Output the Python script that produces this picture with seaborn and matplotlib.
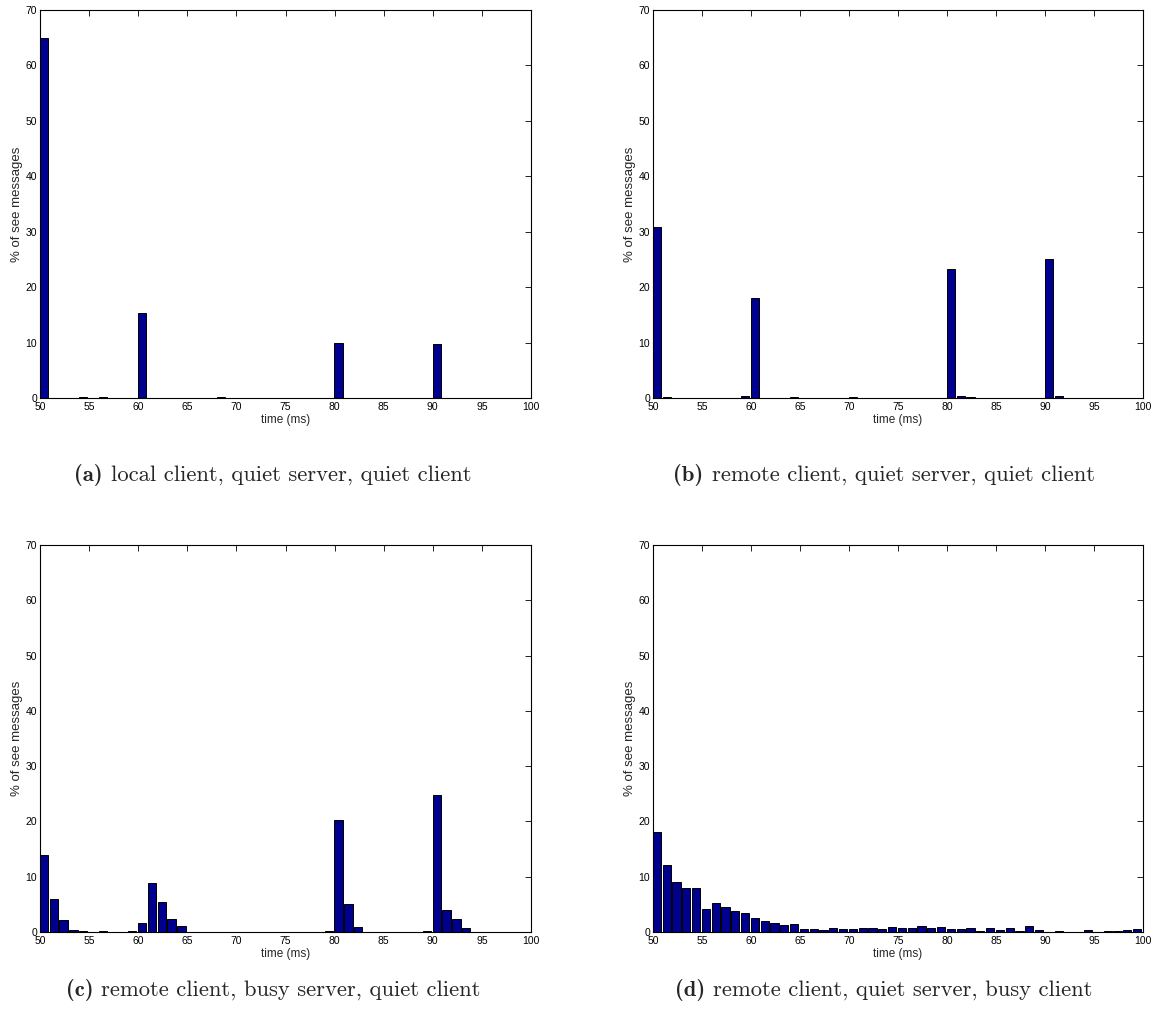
import numpy as np
import matplotlib
matplotlib.use("Agg")
import matplotlib.pyplot as plt
import seaborn as sns

# histogram bins (ms), one bar per 1 ms bin from 50 to 99
time_bins = list(range(50, 100))

# % of see messages per bin
local_quiet = [65.0, 0, 0, 0, 0.2, 0, 0.2, 0, 0, 0,
               15.3, 0, 0, 0, 0, 0, 0, 0, 0.15, 0,
               0, 0, 0, 0, 0, 0, 0, 0, 0, 0,
               9.9, 0, 0, 0, 0, 0, 0, 0, 0, 0,
               9.7, 0, 0, 0, 0, 0, 0, 0, 0, 0]
remote_quiet = [30.8, 0.2, 0.05, 0.05, 0.05, 0.05, 0.05, 0.05, 0.05, 0.3,
                18.0, 0.05, 0.05, 0.05, 0.2, 0.05, 0.05, 0.05, 0.05, 0.05,
                0.2, 0.05, 0.05, 0.05, 0.05, 0.05, 0.05, 0.05, 0.05, 0.05,
                23.3, 0.3, 0.1, 0.05, 0.05, 0.05, 0.05, 0.05, 0.05, 0.05,
                25.1, 0.4, 0.05, 0.05, 0.05, 0.05, 0.05, 0.05, 0.05, 0.05]
busy_server = [13.9, 6.0, 2.1, 0.35, 0.1, 0, 0.1, 0, 0, 0.1,
               1.6, 8.8, 5.4, 2.4, 1.1, 0.05, 0, 0, 0, 0,
               0, 0, 0, 0, 0, 0.05, 0.05, 0.05, 0.05, 0.1,
               20.3, 5.0, 0.85, 0.05, 0, 0, 0.05, 0.05, 0.05, 0.1,
               24.7, 3.9, 2.3, 0.65, 0.05, 0, 0, 0, 0, 0]
busy_client = [18.1, 12.2, 9.0, 8.0, 8.0, 4.2, 5.3, 4.6, 3.8, 3.4,
               2.6, 2.0, 1.6, 1.3, 1.4, 0.55, 0.55, 0.35, 0.8, 0.6,
               0.55, 0.8, 0.8, 0.5, 0.9, 0.8, 0.65, 1.1, 0.8, 0.9,
               0.55, 0.55, 0.65, 0.25, 0.8, 0.3, 0.65, 0.1, 1.1, 0.35,
               0.05, 0.2, 0.05, 0.05, 0.35, 0.05, 0.1, 0.2, 0.35, 0.5]

panels = [
    ("(a)", "local client, quiet server, quiet client", local_quiet),
    ("(b)", "remote client, quiet server, quiet client", remote_quiet),
    ("(c)", "remote client, busy server, quiet client", busy_server),
    ("(d)", "remote client, quiet server, busy client", busy_client),
]

sns.set_style("white")
plt.rcParams["font.family"] = ["Liberation Sans", "DejaVu Sans"]

W, H = 1154, 1017
fig = plt.figure(figsize=(W / 100, H / 100), dpi=100)
renderer = fig.canvas.get_renderer()

# axes boxes in pixels: left, top, right, bottom
boxes = [(40, 10, 531, 398), (653, 10, 1143, 398),
         (40, 545, 531, 932), (653, 545, 1143, 932)]
# caption centre, pixels
captions_xy = [(273, 475), (884, 475), (273, 990), (884, 990)]

centers = np.array(time_bins) + 0.4

for (tag, text, vals), (l, t, r, b), (cx, cy) in zip(panels, boxes, captions_xy):
    ax = fig.add_axes([l / W, 1 - b / H, (r - l) / W, (b - t) / H])
    sns.barplot(x=centers, y=vals, native_scale=True, width=0.85,
                color="#00008f", saturation=1, edgecolor="black",
                linewidth=0.7, errorbar=None, ax=ax)
    ax.set_xlim(50, 100)
    ax.set_ylim(0, 70)
    ax.set_xticks(range(50, 101, 5))
    ax.set_yticks(range(0, 71, 10))
    ax.tick_params(direction="in", top=True, right=True, length=4,
                   width=0.6, labelsize=7.5, colors="black")
    ax.tick_params(axis="x", pad=3)
    ax.tick_params(axis="y", pad=2)
    for s in ax.spines.values():
        s.set_visible(True)
        s.set_color("black")
        s.set_linewidth(0.8)
    ax.set_xlabel("time (ms)", fontsize=8.5, labelpad=1)
    ax.set_ylabel("% of see messages", fontsize=9.5, labelpad=2)

    # caption: bold tag followed by roman text, centred as a whole
    t1 = fig.text(0, 1 - cy / H, tag, family="cmb10", fontsize=16.3,
                  ha="left", va="center")
    t2 = fig.text(0, 1 - cy / H, text, family="cmr10", fontsize=16.3,
                  ha="left", va="center")
    w1 = t1.get_window_extent(renderer).width
    w2 = t2.get_window_extent(renderer).width
    gap = 8
    x0 = cx - (w1 + gap + w2) / 2
    t1.set_x(x0 / W)
    t2.set_x((x0 + w1 + gap) / W)

fig.savefig("out.png", dpi=100)
